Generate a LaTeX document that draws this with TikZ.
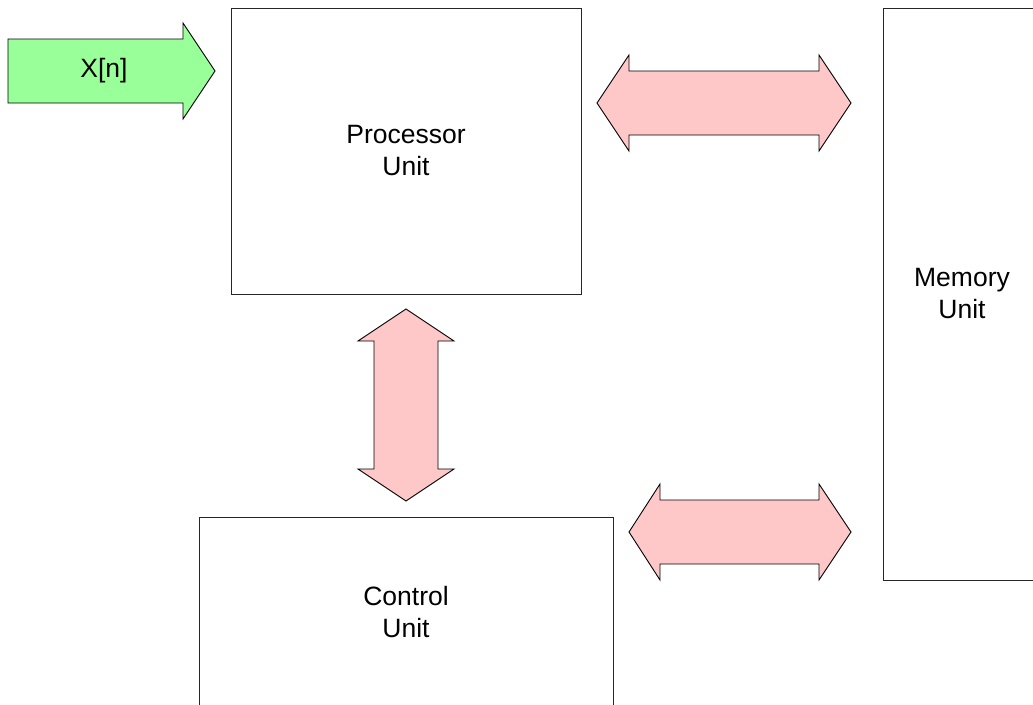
\documentclass[tikz,border=0pt]{standalone}
\usepackage{fontspec}
\setmainfont{Liberation Sans}
\definecolor{arrowgreen}{RGB}{153,255,153}
\definecolor{arrowpink}{RGB}{255,200,200}
\begin{document}
\begin{tikzpicture}[x=1pt,y=-1pt,
  unitbox/.style={draw=black!85,line width=0.9pt,fill=white,rectangle,inner sep=0pt,
    align=center,font=\fontsize{26.5}{32}\selectfont},
  blockarrow/.style={draw=black,line width=0.9pt,line join=miter},
  lbl/.style={font=\fontsize{26.5}{32}\selectfont,inner sep=0pt}]
\useasboundingbox (0,0) rectangle (1033,704);
\begin{scope}
\clip (0,0) rectangle (1033,704);
\node[unitbox,minimum width=350pt,minimum height=286pt] (proc) at (406,151) {Processor\\Unit};
\node[unitbox,minimum width=158pt,minimum height=572pt] (mem) at (962,294) {Memory\\Unit};
\node[unitbox,minimum width=414pt,minimum height=190pt] (ctrl) at (406,612) {Control\\Unit};
\end{scope}
% input arrow
\draw[blockarrow,fill=arrowgreen] (8,39) -- (183,39) -- (183,23) -- (215,71) -- (183,119) -- (183,103) -- (8,103) -- cycle;
\node[lbl] (xin) at (104,71) {X[n]};
% processor <-> memory
\draw[blockarrow,fill=arrowpink] (597,103) -- (629,55) -- (629,71) -- (819,71) -- (819,55) -- (851,103)
  -- (819,151) -- (819,135) -- (629,135) -- (629,151) -- cycle;
% processor <-> control
\draw[blockarrow,fill=arrowpink] (406,309) -- (454,341) -- (438,341) -- (438,469) -- (454,469) -- (406,501)
  -- (358,469) -- (374,469) -- (374,341) -- (358,341) -- cycle;
% control <-> memory
\draw[blockarrow,fill=arrowpink] (629,532) -- (660,484) -- (660,500) -- (819,500) -- (819,484) -- (851,532)
  -- (819,580) -- (819,564) -- (660,564) -- (660,580) -- cycle;
\end{tikzpicture}
\end{document}
